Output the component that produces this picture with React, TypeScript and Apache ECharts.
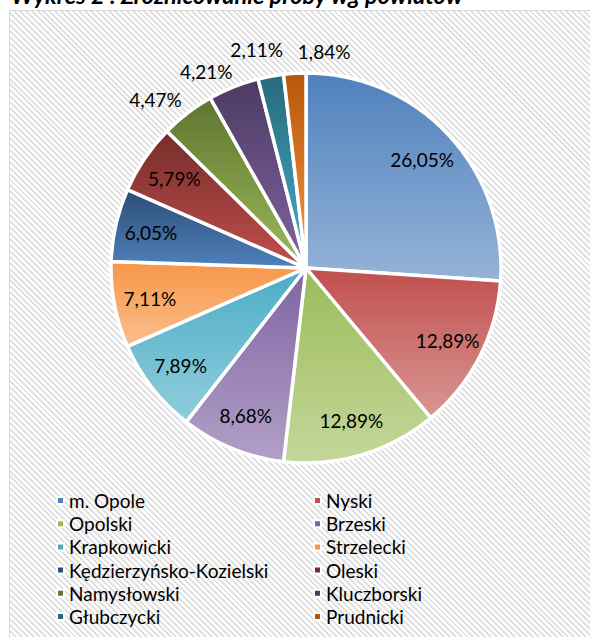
import React, { useEffect, useRef } from 'react';
import * as echarts from 'echarts';

const titleText = 'Wykres 2 : Zróżnicowanie próby wg powiatów';
const categories = [
  'm. Opole', 'Nyski', 'Opolski', 'Brzeski', 'Krapkowicki', 'Strzelecki',
  'Kędzierzyńsko-Kozielski', 'Oleski', 'Namysłowski', 'Kluczborski', 'Głubczycki', 'Prudnicki',
];
const shares = [26.05, 12.89, 12.89, 8.68, 7.89, 7.11, 6.05, 5.79, 4.47, 4.21, 2.11, 1.84];
const outsideLabelNames = ['Namysłowski', 'Kluczborski', 'Głubczycki', 'Prudnicki'];

const topColors = ['#4F81BD', '#C0504D', '#9BBB59', '#8064A2', '#4BACC6', '#F79646', '#2C4D75', '#772C2A', '#5F7530', '#4D3B62', '#276A7C', '#B65708'];
const bottomColors = ['#95B3D7', '#DA9694', '#C4D79B', '#B1A0C7', '#92CDDC', '#FABF8F', '#4F81BD', '#C0504D', '#9BBB59', '#8064A2', '#4BACC6', '#F79646'];

// small nudges of the outside labels (Excel places them off the mid-angle)
const outsideLabelNudge: Record<string, number[]> = {
  'Namysłowski': [-15, 9],
  'Kluczborski': [-17, 11],
  'Głubczycki': [-9, 1],
  'Prudnicki': [31, 6],
};

const FONT = 'Lato, "Open Sans", sans-serif';
const fmt = (v: number) => v.toFixed(2).replace('.', ',') + '%';

export default function App() {
  const ref = useRef<HTMLDivElement>(null);
  useEffect(() => {
    if (!ref.current) return;
    const chart = echarts.init(ref.current, undefined, { renderer: 'svg' });
    const R = 195;
    const center = [306, 268];
    const visibleData = categories.map((name, i) => ({
      name,
      value: shares[i],
      itemStyle: {
        color: {
          type: 'linear', x: 0, y: 0, x2: 0, y2: 1,
          colorStops: [
            { offset: 0, color: topColors[i] },
            { offset: 1, color: bottomColors[i] },
          ],
        },
      },
    }));
    const labelData = (outside: boolean) =>
      categories.map((name, i) => {
        const show = outsideLabelNames.includes(name) === outside;
        return {
          name,
          value: shares[i],
          label: outside && show
            ? { show, offset: outsideLabelNudge[name] }
            : { show },
        };
      });
    const labelSeriesBase = {
      type: 'pie',
      center,
      startAngle: 90,
      silent: true,
      avoidLabelOverlap: false,
      labelLayout: { hideOverlap: false },
      itemStyle: { color: 'rgba(0,0,0,0)', borderWidth: 0 },
      labelLine: { show: false },
      emphasis: { disabled: true },
      label: {
        position: 'inside',
        formatter: (p: any) => fmt(p.value),
        fontFamily: FONT,
        fontSize: 19,
        color: '#000',
      },
    };
    const legendBase = {
      orient: 'vertical',
      top: 491,
      padding: 0,
      height: 400,
      itemWidth: 7,
      itemHeight: 7,
      itemGap: 4.2,
      icon: 'rect',
      selectedMode: false,
      textStyle: { fontFamily: FONT, fontSize: 19, color: '#000' },
    };
    chart.setOption({
      animation: false,
      backgroundColor: 'transparent',
      graphic: [
        {
          type: 'text',
          x: 11,
          y: 6,
          style: {
            text: titleText,
            font: 'italic bold 23.5px ' + FONT,
            fill: '#000',
            verticalAlign: 'bottom',
          },
        },
      ],
      legend: [
        {
          ...legendBase,
          left: 56,
          data: categories.filter((_, i) => i % 2 === 0).map((name) => ({
            name,
            itemStyle: { color: topColors[categories.indexOf(name)] },
          })),
        },
        {
          ...legendBase,
          left: 313,
          data: categories.filter((_, i) => i % 2 === 1).map((name) => ({
            name,
            itemStyle: { color: topColors[categories.indexOf(name)] },
          })),
        },
      ],
      series: [
        {
          type: 'pie',
          name: 'Powiaty',
          center,
          radius: [0, R],
          startAngle: 90,
          label: { show: false },
          labelLine: { show: false },
          emphasis: { disabled: true },
          itemStyle: { borderColor: '#fff', borderWidth: 3.5 },
          data: visibleData,
        },
        { ...labelSeriesBase, radius: [R * 0.6, R], data: labelData(false) },
        { ...labelSeriesBase, radius: [R, R + 50], data: labelData(true) },
      ],
    });
    return () => chart.dispose();
  }, []);

  const stripes =
    'repeating-linear-gradient(45deg, #ffffff 0px, #ffffff 2.1px, #e2e2e2 2.1px, #e2e2e2 4.2px)';
  return (
    <div style={{ position: 'absolute', left: 0, top: 0, width: 590, height: 637, overflow: 'hidden', background: '#fff' }}>
      <div
        style={{
          position: 'absolute', left: 9, top: 10, width: 620, height: 660,
          border: '1px solid #d9d9d9', backgroundImage: stripes,
        }}
      />
      <div ref={ref} style={{ position: 'absolute', left: 0, top: 0, width: 590, height: 637 }} />
    </div>
  );
}
